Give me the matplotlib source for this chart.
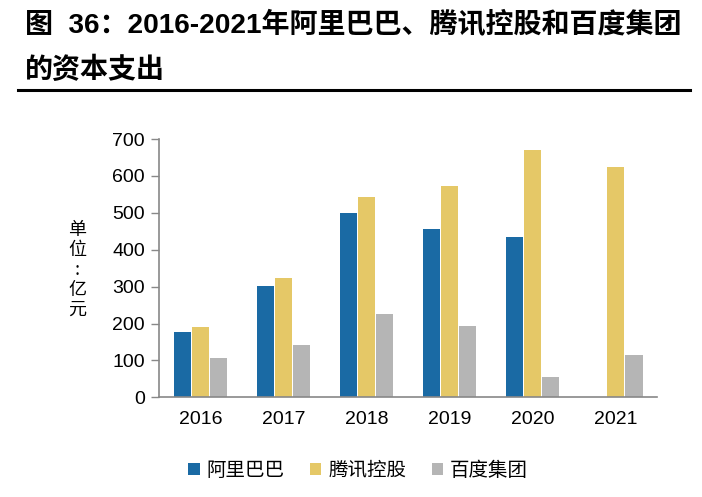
import matplotlib
matplotlib.use('Agg')
import matplotlib.pyplot as plt
import numpy as np

plt.rcParams['font.family'] = ['Liberation Sans', 'Noto Sans CJK SC', 'DejaVu Sans']
plt.rcParams['axes.unicode_minus'] = False

years = ['2016', '2017', '2018', '2019', '2020', '2021']
alibaba = [178, 301, 499, 457, 434, 0]
tencent = [190, 322, 543, 573, 669, 624]
baidu = [107, 142, 226, 194, 55, 115]
names = ['阿里巴巴', '腾讯控股', '百度集团']
colors = ['#1a6aa4', '#e5c867', '#b5b5b5']
yticks = [0, 100, 200, 300, 400, 500, 600, 700]

fig = plt.figure(figsize=(7.02, 4.97), dpi=100)
ax = fig.add_axes([0.2265, 0.2006, 0.7095, 0.5197])

x = np.arange(len(years))
w = 0.205
step = 0.222
for i, (vals, c, n) in enumerate(zip([alibaba, tencent, baidu], colors, names)):
    ax.bar(x + (i - 1) * step, vals, width=w, color=c, label=n, zorder=2)

ax.set_xlim(-0.5, len(years) - 0.5)
ax.set_ylim(0, 700)
ax.set_yticks(yticks)
ax.set_xticks(x)
ax.set_xticklabels(years)
ax.tick_params(axis='y', direction='out', length=6, width=1, color='#888888',
               labelsize=14, pad=4)
ax.tick_params(axis='x', length=0, labelsize=14, pad=10)
for s in ['top', 'right']:
    ax.spines[s].set_visible(False)
for s in ['left', 'bottom']:
    ax.spines[s].set_color('#888888')
    ax.spines[s].set_linewidth(1.2)

# 纵向单位
fig.text(0.110, 0.457, '单\n位\n:\n亿\n元', family=['Noto Sans CJK SC'],
         fontsize=13, ha='center', va='center', linespacing=1.15)

# 标题
fig.text(0.036, 0.950, '图  36：2016-2021年阿里巴巴、腾讯控股和百度集团',
         fontsize=20.2, weight='bold', ha='left', va='center',
         family=['Liberation Sans', 'Noto Sans CJK SC'])
fig.text(0.036, 0.860, '的资本支出', fontsize=20.2, weight='bold',
         ha='left', va='center', family=['Noto Sans CJK SC'])
fig.add_artist(plt.Line2D([0.026, 0.983], [0.818, 0.818], color='black', lw=2.2))

leg = fig.legend(loc='center', bbox_to_anchor=(0.51, 0.054), ncol=3, frameon=False,
                 handlelength=0.6, handleheight=0.6, handletextpad=0.35,
                 columnspacing=1.3, prop={'family': 'Noto Sans CJK SC', 'size': 14})

fig.savefig('out.png', dpi=100)
